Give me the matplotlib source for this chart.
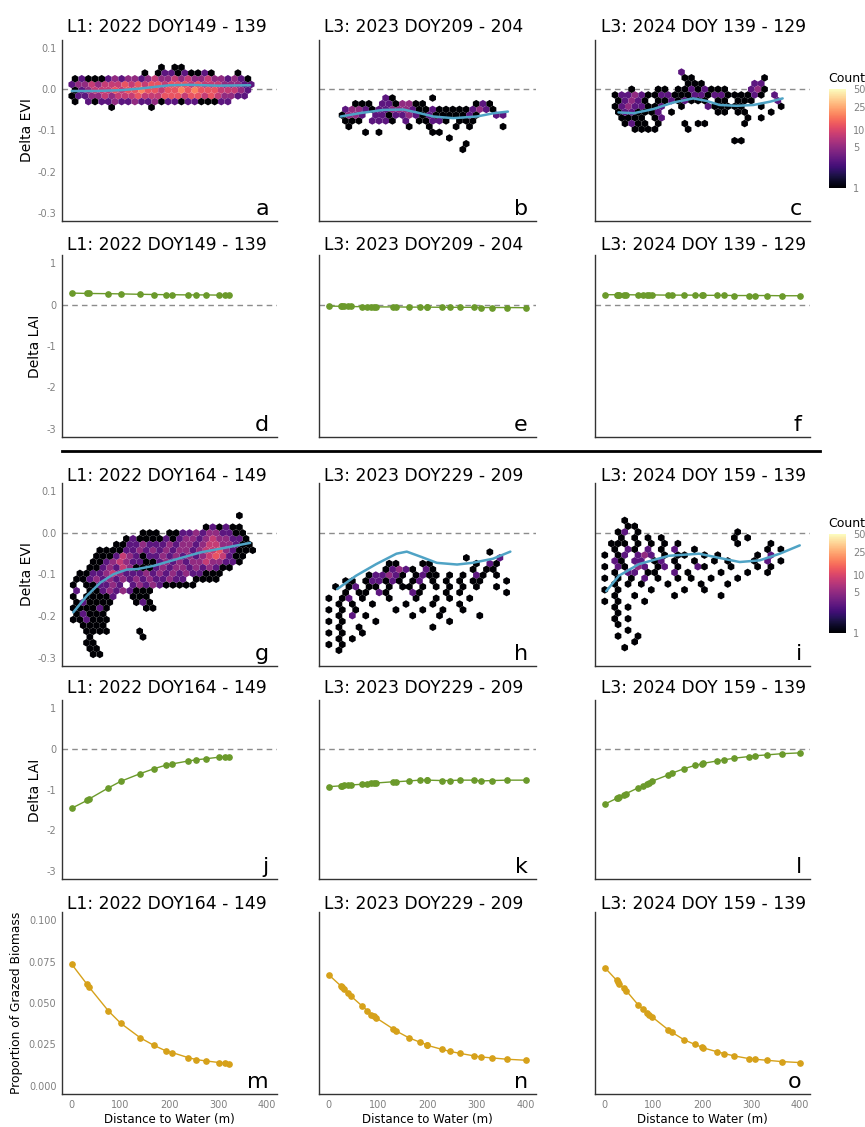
import numpy as np
import matplotlib.pyplot as plt
from matplotlib.colors import LogNorm
from matplotlib.lines import Line2D
from matplotlib.cm import ScalarMappable

plt.rcParams['font.family'] = ['DejaVu Sans']

W, H = 865, 1127

# distance to water of the sampled points (m)
dist_L1 = [0, 31, 36, 75, 100, 140, 168, 193, 206, 238, 255, 274, 302, 314, 321]
dist_L3 = [0, 24, 27, 30, 39, 44, 68, 78, 86, 91, 96, 130, 137, 162, 184, 198, 200,
           229, 245, 265, 295, 308, 331, 362, 399]

titles_top = ['L1: 2022 DOY149 - 139', 'L3: 2023 DOY209 - 204', 'L3: 2024 DOY 139 - 129']
titles_bot = ['L1: 2022 DOY164 - 149', 'L3: 2023 DOY229 - 209', 'L3: 2024 DOY 159 - 139']
letters = 'abcdefghijklmno'

# delta LAI
lai_d = [0.28, 0.27, 0.27, 0.265, 0.26, 0.25, 0.245, 0.24, 0.24, 0.235, 0.235, 0.235, 0.23, 0.23, 0.23]
lai_e = [-0.035, -0.04, -0.04, -0.04, -0.045, -0.045, -0.05, -0.05, -0.05, -0.05, -0.055, -0.055,
         -0.055, -0.06, -0.06, -0.06, -0.06, -0.065, -0.065, -0.065, -0.065, -0.07, -0.07, -0.07, -0.075]
lai_f = [0.24, 0.24, 0.24, 0.24, 0.24, 0.24, 0.235, 0.235, 0.235, 0.235, 0.235, 0.23, 0.23, 0.23,
         0.23, 0.225, 0.225, 0.225, 0.225, 0.22, 0.22, 0.22, 0.22, 0.215, 0.215]
lai_j = [-1.46, -1.27, -1.23, -0.96, -0.80, -0.61, -0.49, -0.40, -0.37, -0.30, -0.27, -0.245, -0.205, -0.198, -0.19]
lai_k = [-0.93, -0.91, -0.91, -0.90, -0.90, -0.89, -0.87, -0.86, -0.85, -0.85, -0.84, -0.81, -0.81,
         -0.79, -0.77, -0.77, -0.77, -0.78, -0.78, -0.77, -0.77, -0.79, -0.78, -0.77, -0.77]
lai_l = [-1.36, -1.22, -1.20, -1.18, -1.13, -1.10, -0.96, -0.91, -0.86, -0.83, -0.80, -0.64, -0.60,
         -0.49, -0.41, -0.37, -0.36, -0.30, -0.27, -0.23, -0.19, -0.17, -0.15, -0.12, -0.10]

# proportion of grazed biomass
graze_m = [0.0734, 0.0614, 0.0594, 0.0452, 0.0378, 0.029, 0.0244, 0.021, 0.020, 0.017, 0.0158,
           0.015, 0.014, 0.0136, 0.0132]
graze_n = [0.067, 0.0604, 0.0594, 0.0584, 0.0558, 0.0544, 0.048, 0.0454, 0.043, 0.042, 0.041, 0.0344,
           0.033, 0.029, 0.0264, 0.0248, 0.0244, 0.022, 0.0208, 0.0196, 0.018, 0.0174, 0.0168, 0.016, 0.0154]
graze_o = [0.0714, 0.0638, 0.0624, 0.0614, 0.0588, 0.0574, 0.049, 0.0464, 0.0438, 0.0428, 0.0418, 0.0338,
           0.0324, 0.0278, 0.025, 0.0234, 0.023, 0.0206, 0.0194, 0.018, 0.0164, 0.016, 0.0154, 0.0146, 0.014]

# smooth fits of delta EVI
fit_a_x = [0, 50, 100, 140, 170, 200, 240, 300, 365]
fit_a_y = [-0.004, -0.004, -0.002, 0.002, 0.006, 0.010, 0.011, 0.009, 0.010]
fit_b_x = [24, 62, 110, 151, 178, 212, 252, 300, 334, 363]
fit_b_y = [-0.066, -0.058, -0.050, -0.049, -0.056, -0.066, -0.070, -0.066, -0.058, -0.054]
fit_c_x = [28, 59, 99, 140, 181, 208, 235, 270, 304, 338, 364]
fit_c_y = [-0.056, -0.058, -0.048, -0.032, -0.022, -0.028, -0.038, -0.040, -0.038, -0.030, -0.022]
fit_g_x = [3, 31, 59, 86, 113, 134, 168, 215, 263, 317, 365]
fit_g_y = [-0.191, -0.151, -0.119, -0.099, -0.088, -0.087, -0.079, -0.063, -0.047, -0.035, -0.024]
fit_h_x = [17, 55, 96, 137, 158, 188, 219, 260, 291, 333, 368]
fit_h_y = [-0.135, -0.103, -0.075, -0.050, -0.045, -0.058, -0.072, -0.076, -0.072, -0.062, -0.045]
fit_i_x = [3, 29, 70, 131, 193, 234, 276, 317, 358, 399]
fit_i_y = [-0.14, -0.103, -0.075, -0.055, -0.050, -0.060, -0.070, -0.066, -0.050, -0.030]

# hexbin cells, one string per hex row from the top; char = count class, '.' = empty
count_code = {'1': 1, '2': 2, '3': 3, '4': 5, '5': 8, '6': 12, '7': 18, '8': 30}

hex_a = [
    "",
    ".............1.11...........",
    "...........1.133131131...1..",
    "131113434434544545445443431.",
    "3445455565656656665655544433",
    "134555656676656676766655543.",
    "133445455565556665665654433.",
    "1.3133433433413313311133....",
    "......1.....1...............",
]
hex_b = [
    ".......31.....1...........",
    "..111.3314411.......131...",
    ".34431334443113111113431..",
    "1443.3313343131111131..33.",
    ".111.3331.3.11331.111.....",
    ".1........1..1...1.1....1.",
    "....1.1.......11..........",
    "................1.........",
    "...................1......",
    "..................1.......",
]
hex_c = [
    "..........3...............",
    "..........11..........1...",
    "...........111.......33...",
    "..1...11.11313111...341...",
    "13343113311133133111131.3.",
    "13431.11313111.11.111...3.",
    "13433113..1...311111..1..1",
    "1331113.1......11.11...1..",
    ".1111.13............1.1...",
    ".1311.1...1.11.....1......",
    "...1111....1..............",
    "",
    "..................11......",
]
hex_g = [
    ".........................1..",
    "",
    "....................131311..",
    "..........111.113343443311..",
    "........1311113134434544331.",
    "......113343334344345544311.",
    "....111133434343443455643111",
    "...11135431334343434565311..",
    "...11345433113434344544331..",
    "..1134354111343443434311....",
    ".1133454333434343433111.....",
    "11343434343433433.1111......",
    "1.113343.3434311111.........",
    "3.1134343111................",
    "1.11113..111................",
    "131111...131................",
    "111131.....11...............",
    "13111.......................",
    "113111......................",
    ".1111.......................",
    "..1111....1.................",
    "..1.......1.................",
    "..11........................",
    "..11........................",
    "...11.......................",
]
hex_h = [
    "........................1...",
    "....................1....3..",
    ".........11...11......1.31..",
    "........13431.31.....1.11...",
    "......133431.1311.1.1.31.1..",
    "..11.133131.13.1.1.1.11...1.",
    ".1.13.11.1.11.1.1.1.1.1..1..",
    "..1.11.31...31...1.1......1.",
    "1.13.1...1...1..1.1..1......",
    ".1.1..1....1...1...1........",
    "1.1.1.....1...1..1..1.......",
    ".1.3.1......1...1.....1.....",
    "1.1....1..........1.........",
    ".1..1..........1............",
    "1.1..1......................",
    ".1.1........................",
    "1.1.........................",
    ".1..........................",
]
hex_i = [
    "...1",
    "...11",
    "..13.1..............1",
    "..1.1.1.1..........1.1",
    ".111.1.1.1.1........1....1",
    ".1.31.3.1.3..1..........1.1",
    "1.13.343.1.11..1.1.....1.3",
    ".31.33.13.1..1..1.1...1.3.1",
    "1.31.43.13.1..31...1...1.1",
    ".1.33.11..3.1....1...1..1",
    "1.1.1.3.1..1.1..1...1",
    ".1.1.1...1....1...1",
    "1.1....1....1..1",
    ".1..1.....1......1",
    "1.1...1",
    ".1.1",
    "..1",
    ".1.1",
    "..1",
    "...1",
    "..1..1",
    "....1",
    "...1",
]
# (first centre x of unshifted rows, y of the top row)
hex_origin = {'a': (0.0, 0.0675), 'b': (20.0, -0.021), 'c': (21.0, 0.042),
              'g': (3.0, 0.0416), 'h': (0.0, -0.046), 'i': (0.0, 0.030)}
HEX_W = 13.6
HEX_DY = 0.0139

GREEN = '#6B9A2B'
GOLD = '#D6A11A'
BLUE = '#4FA3C5'
TICK_GREY = '#808080'
norm = LogNorm(1, 50)

fig = plt.figure(figsize=(W / 100, H / 100), dpi=100)

col_px = [(62, 277), (319, 536), (595, 810)]
row_px = [(40, 221), (255, 437), (483, 666), (700, 879), (912, 1094)]


def add_ax(r, c):
    x0, x1 = col_px[c]
    y0, y1 = row_px[r]
    return fig.add_axes([x0 / W, 1 - y1 / H, (x1 - x0) / W, (y1 - y0) / H])


def style(ax, r, c, ylim, yticks, yfmt):
    ax.set_xlim(-20, 420)
    ax.set_ylim(*ylim)
    for s in ['top', 'right']:
        ax.spines[s].set_visible(False)
    for s in ['left', 'bottom']:
        ax.spines[s].set_color('#333333')
        ax.spines[s].set_linewidth(1.0)
    ax.set_xticks([0, 100, 200, 300, 400])
    ax.set_yticks(yticks)
    ax.set_yticklabels([yfmt % v for v in yticks])
    ax.tick_params(length=0, labelsize=7, labelcolor=TICK_GREY, pad=4)
    ax.tick_params(labelleft=(c == 0), labelbottom=(r == 4))
    ax.text(0.962, 0.033, letters[r * 3 + c], transform=ax.transAxes,
            ha='right', va='baseline', fontsize=16)


def draw_hex(ax, rows, key):
    x0, ytop = hex_origin[key]
    xs, ys, cs = [], [], []
    for k, row in enumerate(rows):
        for i, ch in enumerate(row):
            if ch == '.':
                continue
            xs.append(x0 + (i + 0.5 * (k % 2)) * HEX_W)
            ys.append(ytop - k * HEX_DY)
            cs.append(count_code[ch])
    nrow = len(rows) + len(rows) % 2 + 2
    ymin = ytop - nrow * HEX_DY
    nx, ny = 34, nrow // 2 + 1
    ax.hexbin(xs, ys, C=cs, reduce_C_function=np.sum, gridsize=(nx, ny),
              extent=(x0, x0 + nx * HEX_W, ymin, ymin + ny * 2 * HEX_DY),
              cmap='magma', norm=norm, edgecolors='none', linewidths=0)


hex_rows = [[(hex_a, 'a', fit_a_x, fit_a_y), (hex_b, 'b', fit_b_x, fit_b_y), (hex_c, 'c', fit_c_x, fit_c_y)],
            [(hex_g, 'g', fit_g_x, fit_g_y), (hex_h, 'h', fit_h_x, fit_h_y), (hex_i, 'i', fit_i_x, fit_i_y)]]
lai_rows = [[(dist_L1, lai_d), (dist_L3, lai_e), (dist_L3, lai_f)],
            [(dist_L1, lai_j), (dist_L3, lai_k), (dist_L3, lai_l)]]
graze_row = [(dist_L1, graze_m), (dist_L3, graze_n), (dist_L3, graze_o)]

for block in range(2):
    r_evi, r_lai = block * 2, block * 2 + 1
    for c in range(3):
        ax = add_ax(r_evi, c)
        rows, key, fx, fy = hex_rows[block][c]
        draw_hex(ax, rows, key)
        ax.axhline(0, color='#8c8c8c', lw=1, ls=(0, (4, 3)), zorder=0)
        ax.plot(fx, fy, color=BLUE, lw=1.8, solid_capstyle='round')
        style(ax, r_evi, c, (-0.32, 0.12), [0.1, 0.0, -0.1, -0.2, -0.3], '%.1f')

        ax = add_ax(r_lai, c)
        dx, dy = lai_rows[block][c]
        ax.axhline(0, color='#8c8c8c', lw=1, ls=(0, (4, 3)), zorder=0)
        ax.plot(dx, dy, color=GREEN, lw=1, marker='o', ms=3.8)
        style(ax, r_lai, c, (-3.2, 1.2), [1, 0, -1, -2, -3], '%d')

for c in range(3):
    ax = add_ax(4, c)
    dx, dy = graze_row[c]
    ax.plot(dx, dy, color=GOLD, lw=1, marker='o', ms=3.8)
    style(ax, 4, c, (-0.005, 0.105), [0.0, 0.025, 0.05, 0.075, 0.1], '%.3f')
    xc = (col_px[c][0] + col_px[c][1]) / 2
    fig.text(xc / W, 1 - 1119 / H, 'Distance to Water (m)', ha='center', va='center', fontsize=8.5)

# panel titles
title_base = [32, 250, 481, 693, 909]
title_x = [67, 324, 601]
for r in range(5):
    names = titles_top if r < 2 else titles_bot
    for c in range(3):
        fig.text(title_x[c] / W, 1 - title_base[r] / H, names[c], ha='left', va='baseline',
                 fontsize=12.3)

# axis labels
fig.text(27 / W, 1 - 130 / H, 'Delta EVI', rotation=90, ha='center', va='center', fontsize=10)
fig.text(27 / W, 1 - 574 / H, 'Delta EVI', rotation=90, ha='center', va='center', fontsize=10)
fig.text(35 / W, 1 - 346 / H, 'Delta LAI', rotation=90, ha='center', va='center', fontsize=10)
fig.text(35 / W, 1 - 790 / H, 'Delta LAI', rotation=90, ha='center', va='center', fontsize=10)
fig.text(17 / W, 1 - 1003 / H, 'Proportion of Grazed Biomass', rotation=90, ha='center',
         va='center', fontsize=8.8)

# colour bars
for top in [89, 534]:
    cax = fig.add_axes([829 / W, 1 - (top + 99) / H, 17 / W, 99 / H])
    cb = fig.colorbar(ScalarMappable(norm=norm, cmap='magma'), cax=cax)
    cb.outline.set_visible(False)
    cb.set_ticks([1, 5, 10, 25, 50])
    cb.set_ticklabels(['1', '5', '10', '25', '50'])
    cb.minorticks_off()
    cax.tick_params(length=3, color='white', labelsize=7, labelcolor=TICK_GREY, pad=2)
    fig.text(828 / W, 1 - (top - 7) / H, 'Count', ha='left', va='baseline', fontsize=9)

# separator between the two date blocks
fig.add_artist(Line2D([62 / W, 820 / W], [1 - 451 / H, 1 - 451 / H], color='black', lw=2))

fig.savefig('out.png', dpi=100)
